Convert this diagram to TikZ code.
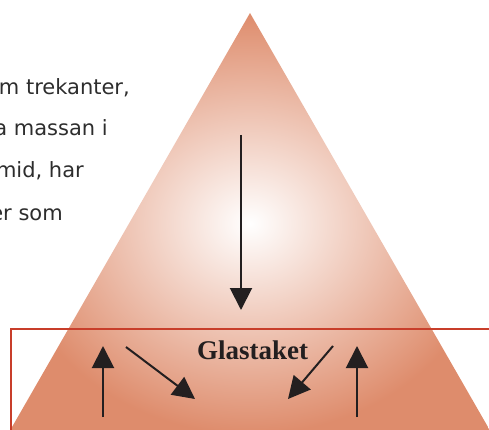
\documentclass[tikz,border=0pt]{standalone}
\usepackage{fontspec}
\setmainfont{Liberation Serif}
\newfontfamily\brodtext{DejaVu Sans}
\usetikzlibrary{arrows.meta}
\definecolor{pyramid}{RGB}{222,140,108}
\definecolor{takrod}{RGB}{200,62,42}
\definecolor{textgra}{RGB}{45,45,45}
\definecolor{pilsvart}{RGB}{35,31,32}
\begin{document}
\begin{tikzpicture}[x=1pt,y=-1pt,
    pil/.style={draw=pilsvart,line width=2pt,-{Triangle[length=22pt,width=22pt]}},
    brodrad/.style={anchor=base east,inner sep=0pt,text=textgra,
      font=\brodtext\fontsize{21}{25}\selectfont}]
  \useasboundingbox (0,0) rectangle (489,430);
  \clip (0,0) rectangle (489,430);
  % text
  \node[brodrad] (rad1) at (130,95) {m trekanter,};
  \node[brodrad] (rad2) at (108,136) {a massan i};
  \node[brodrad] (rad3) at (84,178) {mid, har};
  \node[brodrad] (rad4) at (63,220) {er som};
  % pyramid
  \shade[inner color=white,outer color=pyramid] (250,13) -- (8,434) -- (492,434) -- cycle;
  % glastaket
  \draw[takrod,line width=2.3pt] (11,329) rectangle (520,460);
  \node[anchor=base west,inner sep=0pt,text=pilsvart,
    font=\bfseries\fontsize{27}{32}\selectfont] (glastaket) at (197,359) {Glastaket};
  % pilar
  \coordinate (nedA) at (241,135);
  \coordinate (nedB) at (241,310);
  \coordinate (uppvA) at (103,417);
  \coordinate (uppvB) at (103,346);
  \coordinate (upphA) at (357,417);
  \coordinate (upphB) at (357,346);
  \coordinate (snevA) at (126,347);
  \coordinate (snevB) at (195,399);
  \coordinate (snehA) at (333,346);
  \coordinate (snehB) at (288,399);
  \draw[pil] (nedA) -- (nedB);
  \draw[pil] (uppvA) -- (uppvB);
  \draw[pil] (upphA) -- (upphB);
  \draw[pil] (snevA) -- (snevB);
  \draw[pil] (snehA) -- (snehB);
\end{tikzpicture}
\end{document}
